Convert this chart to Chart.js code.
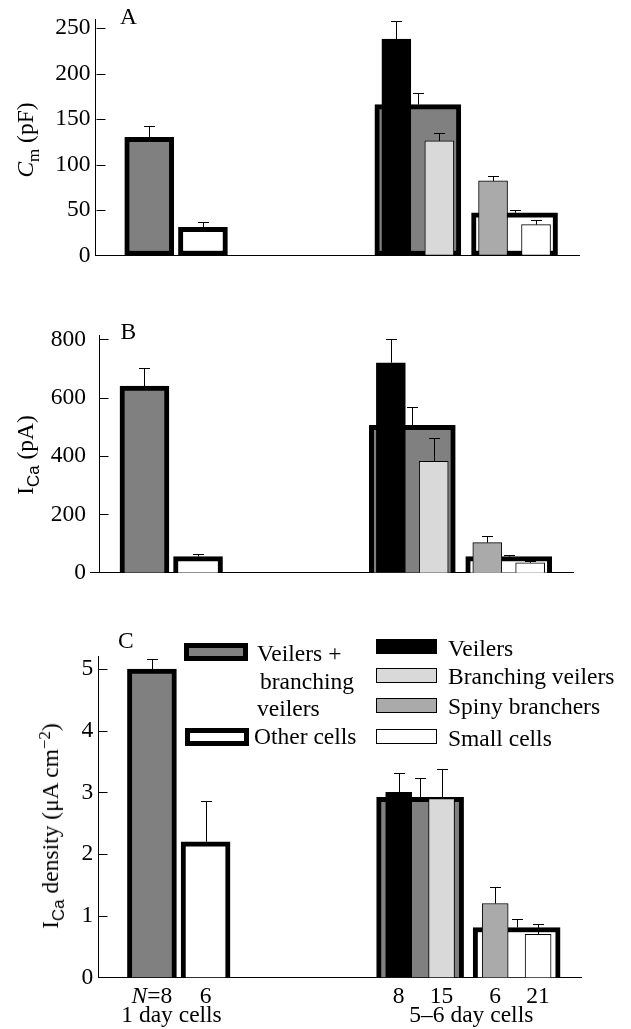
<!DOCTYPE html>
<html>
<head>
<meta charset="utf-8">
<script src="https://cdn.jsdelivr.net/npm/chart.js@4.4.1/dist/chart.umd.min.js"></script>
<style>
html,body{margin:0;padding:0;background:#fff;}
body{width:631px;height:1029px;position:relative;overflow:hidden;font-family:"Liberation Serif",serif;color:#000;}
canvas{position:absolute;left:0;top:0;}
.t{position:absolute;white-space:nowrap;font-size:23.5px;line-height:23.5px;}
.yt{position:absolute;white-space:nowrap;font-size:23.5px;line-height:26px;transform:translate(-50%,-50%) rotate(-90deg);}
.yt sub{font-size:0.72em;vertical-align:-0.35em;line-height:0;}
.yt sup{font-size:0.72em;vertical-align:0.45em;line-height:0;}
.sans{font-family:"Liberation Sans",Arial,sans-serif;}
.box{position:absolute;box-sizing:border-box;border:1px solid #000;}
</style>
</head>
<body>
<canvas id="cA" width="631" height="1029"></canvas>
<canvas id="cB" width="631" height="1029"></canvas>
<canvas id="cC" width="631" height="1029"></canvas>

<div class="t" style="left:120px;top:5.3px">A</div>
<div class="t" style="left:120.5px;top:320.3px">B</div>
<div class="t" style="left:118px;top:629.3px">C</div>

<div class="yt" style="left:25px;top:140px"><i>C</i><sub>m</sub> (pF)</div>
<div class="yt" style="left:25px;top:455px">I<sub class="sans">Ca</sub> (pA)</div>
<div class="yt" style="left:50px;top:826px">I<sub class="sans">Ca</sub> density (μA cm<sup>−2</sup>)</div>

<!-- legend, left block -->
<div class="box" style="left:184px;top:643px;width:64px;height:18px;border-width:5px;background:#808080"></div>
<div class="t" style="left:257px;top:642px">Veilers +</div>
<div class="t" style="left:260px;top:669.5px">branching</div>
<div class="t" style="left:257px;top:697px">veilers</div>
<div class="box" style="left:185px;top:728px;width:64px;height:18px;border-width:5px;background:#fff"></div>
<div class="t" style="left:254px;top:725.3px">Other cells</div>
<!-- legend, right block -->
<div class="box" style="left:376px;top:639px;width:61px;height:15px;background:#000"></div>
<div class="t" style="left:448px;top:636.8px">Veilers</div>
<div class="box" style="left:376px;top:668px;width:61px;height:15px;background:#d9d9d9"></div>
<div class="t" style="left:448px;top:665.3px">Branching veilers</div>
<div class="box" style="left:376px;top:698px;width:61px;height:15px;background:#aaaaaa"></div>
<div class="t" style="left:448px;top:695.3px">Spiny branchers</div>
<div class="box" style="left:376px;top:729px;width:61px;height:15px;background:#fff"></div>
<div class="t" style="left:448px;top:726.8px">Small cells</div>

<script>
// ---------------- data ----------------
const seriesNames = ['Veilers + branching veilers', 'Other cells', 'Veilers', 'Branching veilers', 'Spiny branchers', 'Small cells'];
const ageGroups = ['1 day cells', '5\u20136 day cells'];
const cellCounts = ['N=8', '6', '8', '15', '6', '21'];
const cellCountGroup = [0, 0, 1, 1, 1, 1];

// Panel A: membrane capacitance (pF)
const cmTicks = [0, 50, 100, 150, 200, 250];
const cmDay1 = [130, 31];
const cmDay1Err = [12, 6];
const cmDay5Pooled = [166, 47];
const cmDay5PooledErr = [13, 3];
const cmDay5Types = [238, 126, 82, 34];
const cmDay5TypesErr = [20, 9, 5, 5];

// Panel B: calcium current (pA)
const icaTicks = [0, 200, 400, 600, 800];
const icaDay1 = [640, 55];
const icaDay1Err = [62, 8];
const icaDay5Pooled = [505, 55];
const icaDay5PooledErr = [63, 6];
const icaDay5Types = [720, 382, 103, 34];
const icaDay5TypesErr = [82, 81, 23, 7];

// Panel C: calcium current density (uA cm-2)
const densTicks = [0, 1, 2, 3, 4, 5];
const densDay1 = [5.0, 2.2];
const densDay1Err = [0.16, 0.66];
const densDay5Pooled = [2.92, 0.81];
const densDay5PooledErr = [0.31, 0.14];
const densDay5Types = [3.0, 2.9, 1.2, 0.7];
const densDay5TypesErr = [0.31, 0.48, 0.27, 0.17];

// ---------------- layout & style ----------------
const SLOTS = 46;
const day1Slots = [5, 10];
const pooledSlots = [30, 39];
const typeSlots = [28, 32, 37, 41];
const countSlots = [5, 10, 28, 32, 37, 41];
const pooledColors = ['#808080', '#ffffff'];
const typeColors = ['#000000', '#d9d9d9', '#aaaaaa', '#ffffff'];
const FS = 23.5;
const FONT = '"Liberation Serif"';
const YW = 60;

function place(vals, slots, fill) {
  const a = new Array(SLOTS).fill(fill === undefined ? null : fill);
  slots.forEach((s, i) => { a[s] = vals[i]; });
  return a;
}

const errorBars = {
  id: 'errorBars',
  afterDatasetsDraw(chart) {
    const ctx = chart.ctx, ys = chart.scales.y;
    ctx.save();
    ctx.strokeStyle = '#000';
    ctx.lineWidth = 1;
    chart.data.datasets.forEach((ds, di) => {
      if (!ds.errors) return;
      const meta = chart.getDatasetMeta(di);
      meta.data.forEach((bar, i) => {
        const v = ds.data[i], e = ds.errors[i];
        if (v == null || e == null) return;
        const x = Math.round(bar.x) + 0.5;
        const yTop = Math.round(ys.getPixelForValue(v + e)) + 0.5;
        ctx.beginPath();
        ctx.moveTo(x, bar.y);
        ctx.lineTo(x, yTop);
        ctx.moveTo(x - 5.5, yTop);
        ctx.lineTo(x + 5.5, yTop);
        ctx.stroke();
      });
    });
    ctx.restore();
  }
};

const axisDecor = {
  id: 'axisDecor',
  afterDraw(chart, args, o) {
    const ctx = chart.ctx, ys = chart.scales.y, ca = chart.chartArea;
    const x0 = Math.round(ca.left + (o.offset || 0)) + 0.5;
    ctx.save();
    ctx.strokeStyle = '#000';
    ctx.lineWidth = 1;
    ctx.beginPath();
    if (o.drawLine) {
      ctx.moveTo(x0, ca.bottom);
      ctx.lineTo(x0, ca.top);
    }
    ys.ticks.forEach(t => {
      if (t.value === 0) return;
      const py = Math.round(ys.getPixelForValue(t.value)) + 0.5;
      ctx.moveTo(x0, py);
      ctx.lineTo(x0 + 9, py);
    });
    ctx.stroke();
    ctx.restore();
  }
};

const xLabels = {
  id: 'xLabels',
  afterDraw(chart, args, o) {
    if (!o.show) return;
    const ctx = chart.ctx, xs = chart.scales.x, ca = chart.chartArea;
    const labels = chart.data.labels;
    const y1 = ca.bottom + 25.5, y2 = ca.bottom + 44;
    const ext = {};
    let k = 0;
    ctx.save();
    ctx.fillStyle = '#000';
    ctx.textBaseline = 'alphabetic';
    ctx.textAlign = 'left';
    labels.forEach((lab, i) => {
      if (!lab) return;
      const cx = xs.getPixelForValue(i);
      const m = /^N(=.*)$/.exec(lab);
      let parts = m ? [['N', 'italic '], [m[1], '']] : [[lab, '']];
      let w = 0;
      parts.forEach(p => { ctx.font = p[1] + FS + 'px ' + FONT; p.push(ctx.measureText(p[0]).width); w += p[2]; });
      let x = cx - w / 2;
      const left = x;
      parts.forEach(p => { ctx.font = p[1] + FS + 'px ' + FONT; ctx.fillText(p[0], x, y1); x += p[2]; });
      const g = o.groupOf[k++];
      if (!ext[g]) ext[g] = [left, x];
      ext[g][0] = Math.min(ext[g][0], left);
      ext[g][1] = Math.max(ext[g][1], x);
    });
    ctx.font = FS + 'px ' + FONT;
    ctx.textAlign = 'center';
    o.groups.forEach((name, g) => {
      if (!ext[g]) return;
      ctx.fillText(name, (ext[g][0] + ext[g][1]) / 2, y2);
    });
    ctx.restore();
  }
};

function makePanel(id, geo, ticks, yMax, d1, d1e, pl, ple, ty, tye, st) {
  const TRANSP = 'rgba(0,0,0,0)';
  const datasets = [
    { label: seriesNames.slice(2).join(', '), data: place(ty, typeSlots), errors: place(tye, typeSlots),
      backgroundColor: place(typeColors, typeSlots, TRANSP), borderColor: '#000', borderWidth: 1,
      barThickness: st.thin, borderSkipped: st.skip, grouped: false },
    { label: seriesNames.slice(0, 2).join(', ') + ' (' + ageGroups[1] + ')', data: place(pl, pooledSlots), errors: place(ple, pooledSlots),
      backgroundColor: place(pooledColors, pooledSlots, TRANSP), borderColor: '#000', borderWidth: 5,
      barThickness: st.wide, borderSkipped: st.skip, grouped: false },
    { label: seriesNames.slice(0, 2).join(', ') + ' (' + ageGroups[0] + ')', data: place(d1, day1Slots), errors: place(d1e, day1Slots),
      backgroundColor: place(pooledColors, day1Slots, TRANSP), borderColor: '#000', borderWidth: 5,
      barThickness: st.day1, borderSkipped: st.skip, grouped: false }
  ];
  return new Chart(document.getElementById(id), {
    type: 'bar',
    data: { labels: place(cellCounts, countSlots, ''), datasets },
    plugins: [errorBars, axisDecor, xLabels],
    options: {
      responsive: false, animation: false, devicePixelRatio: 1,
      events: [],
      layout: { padding: { left: geo.left - YW, right: 631 - geo.right, top: geo.top, bottom: 1029 - geo.bottom } },
      plugins: {
        legend: { display: false }, tooltip: { enabled: false },
        axisDecor: { offset: geo.yOffset, drawLine: geo.yOffset !== 0 },
        xLabels: { show: !!st.xlabels, groups: ageGroups, groupOf: cellCountGroup }
      },
      scales: {
        x: {
          type: 'category', offset: false,
          grid: { display: false, drawTicks: false, tickLength: 0 },
          ticks: { display: false },
          border: { display: true, color: '#000', width: 1 },
          afterFit(s) { s.height = 0; }
        },
        y: {
          min: 0, max: yMax,
          grid: { display: false, drawTicks: false, tickLength: 0 },
          border: { display: geo.yOffset === 0, color: '#000', width: 1 },
          ticks: { color: '#000', font: { family: 'Liberation Serif', size: FS }, padding: 5 },
          afterBuildTicks(s) { s.ticks = ticks.map(v => ({ value: v })); },
          afterFit(s) { s.width = YW; }
        }
      }
    }
  });
}

makePanel('cA', { left: 95.5, right: 579, top: 13.3, bottom: 255.5, yOffset: 0 }, cmTicks, 260,
  cmDay1, cmDay1Err, cmDay5Pooled, cmDay5PooledErr, cmDay5Types, cmDay5TypesErr,
  { thin: 29, wide: 86, day1: 49, skip: false });
makePanel('cB', { left: 90.9, right: 573, top: 335, bottom: 572.7, yOffset: 8.1 }, icaTicks, 815,
  icaDay1, icaDay1Err, icaDay5Pooled, icaDay5PooledErr, icaDay5Types, icaDay5TypesErr,
  { thin: 29, wide: 86, day1: 49, skip: 'start' });
makePanel('cC', { left: 98.3, right: 581, top: 656.7, bottom: 977.5, yOffset: 0 }, densTicks, 5.2,
  densDay1, densDay1Err, densDay5Pooled, densDay5PooledErr, densDay5Types, densDay5TypesErr,
  { thin: 26, wide: 87, day1: 49, skip: 'start', xlabels: true });
</script>
</body>
</html>
